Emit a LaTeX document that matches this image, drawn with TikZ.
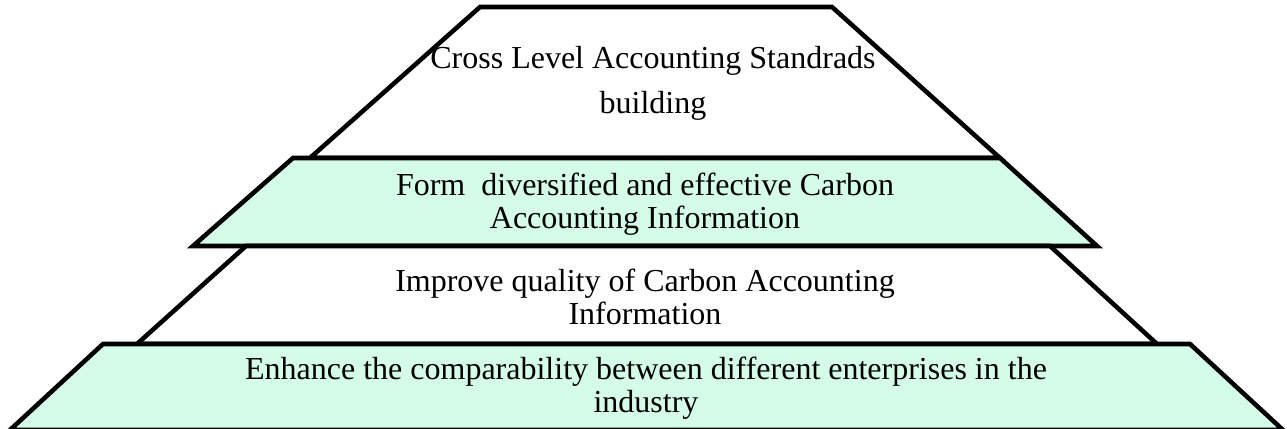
\documentclass[tikz,border=0pt]{standalone}
\usepackage{fontspec}
\setmainfont{Liberation Serif}
\definecolor{mintgreen}{RGB}{212,252,232}
\begin{document}
\begin{tikzpicture}[x=0.375pt,y=-0.375pt,
  tier/.style={draw=black,line width=1.7pt,line join=miter},
  plaintier/.style={tier,fill=white},
  minttier/.style={tier,fill=mintgreen},
  tiertext/.style={inner sep=0pt,align=center,anchor=base,
    font=\fontsize{12}{12.6}\selectfont}]
\useasboundingbox (0,0) rectangle (1287,429);

% top tier
\draw[plaintier] (480,7) -- (832,7) -- (1000,158) -- (310,158) -- cycle;
% second tier
\draw[minttier] (293,158) -- (1000,158) -- (1097,246) -- (193,246) -- cycle;
% third tier
\draw[plaintier] (246,246) -- (1050,246) -- (1157,344) -- (137,344) -- cycle;
% base tier
\draw[minttier] (103,344) -- (1190,344) -- (1283,430) -- (10,430) -- cycle;

% the base anchor of a two-line label sits on its last line
\node[tiertext,font=\fontsize{12}{16.9}\selectfont] (t1) at (653,114)
  {Cross Level Accounting Standrads\\building};
\node[tiertext] (t2) at (645,229)
  {Form\ \ diversified and effective Carbon\\Accounting Information};
\node[tiertext] (t3) at (645,325)
  {Improve quality of Carbon Accounting\\Information};
\node[tiertext] (t4) at (646,413)
  {Enhance the comparability between different enterprises in the\\industry};
\end{tikzpicture}
\end{document}
